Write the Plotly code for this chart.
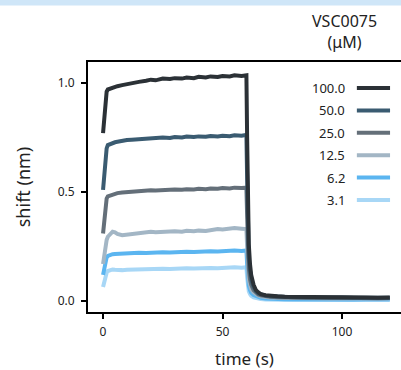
import plotly.graph_objects as go

# time points (s)
time_s = [0, 0.5, 1, 1.5, 2, 3, 4, 5, 6, 8, 10, 12, 15, 18, 20, 22, 25, 28, 30, 33,
          35, 38, 40, 43, 45, 48, 50, 53, 55, 58, 60,
          60.3, 60.6, 61, 61.5, 62, 63, 64, 65, 66, 68, 70, 73, 76, 80, 85, 90, 95, 100, 105, 110, 115, 120]

concentrations = ["100.0", "50.0", "25.0", "12.5", "6.2", "3.1"]

shift_100 = [0.77, 0.84, 0.91, 0.96, 0.97, 0.975, 0.975, 0.98, 0.985, 0.99,
             0.995, 1.0, 1.005, 1.01, 1.015, 1.012, 1.02, 1.018, 1.022, 1.02,
             1.025, 1.022, 1.028, 1.025, 1.03, 1.027, 1.032, 1.03, 1.035, 1.032, 1.035,
             0.75, 0.45, 0.26, 0.17, 0.12, 0.075, 0.05, 0.04, 0.032, 0.027,
             0.024, 0.022, 0.02, 0.02, 0.018, 0.019, 0.017, 0.018, 0.016, 0.017, 0.015, 0.016]
shift_50 = [0.51, 0.58, 0.65, 0.70, 0.715, 0.72, 0.725, 0.728, 0.73, 0.735,
            0.738, 0.74, 0.742, 0.745, 0.748, 0.746, 0.75, 0.748, 0.752, 0.75,
            0.754, 0.752, 0.755, 0.753, 0.757, 0.755, 0.758, 0.756, 0.76, 0.758, 0.762,
            0.56, 0.34, 0.2, 0.14, 0.1, 0.065, 0.045, 0.035, 0.03, 0.025,
            0.022, 0.02, 0.019, 0.018, 0.017, 0.018, 0.016, 0.017, 0.015, 0.016, 0.014, 0.015]
shift_25 = [0.31, 0.37, 0.43, 0.47, 0.48, 0.485, 0.49, 0.492, 0.495, 0.498,
            0.5, 0.502, 0.505, 0.506, 0.508, 0.507, 0.51, 0.509, 0.512, 0.51,
            0.513, 0.512, 0.515, 0.513, 0.516, 0.515, 0.518, 0.516, 0.52, 0.518, 0.52,
            0.39, 0.24, 0.15, 0.1, 0.075, 0.05, 0.038, 0.03, 0.026, 0.022,
            0.02, 0.018, 0.017, 0.016, 0.015, 0.016, 0.014, 0.015, 0.013, 0.014, 0.013, 0.014]
shift_12_5 = [0.17, 0.21, 0.25, 0.28, 0.295, 0.31, 0.318, 0.315, 0.308, 0.302,
              0.305, 0.31, 0.312, 0.315, 0.318, 0.316, 0.318, 0.317, 0.32, 0.318,
              0.322, 0.32, 0.323, 0.321, 0.325, 0.33, 0.328, 0.33, 0.335, 0.332, 0.33,
              0.25, 0.16, 0.1, 0.075, 0.055, 0.04, 0.032, 0.026, 0.022, 0.018,
              0.016, 0.015, 0.014, 0.013, 0.012, 0.013, 0.012, 0.012, 0.011, 0.012, 0.011, 0.012]
shift_6_2 = [0.12, 0.15, 0.18, 0.2, 0.207, 0.212, 0.215, 0.216, 0.217, 0.218,
             0.22, 0.219, 0.222, 0.221, 0.223, 0.222, 0.224, 0.223, 0.225, 0.224,
             0.226, 0.225, 0.227, 0.226, 0.228, 0.227, 0.229, 0.228, 0.232, 0.23, 0.232,
             0.17, 0.11, 0.07, 0.05, 0.038, 0.028, 0.022, 0.018, 0.015, 0.012,
             0.01, 0.009, 0.008, 0.008, 0.007, 0.008, 0.007, 0.008, 0.007, 0.008, 0.007, 0.008]
shift_3_1 = [0.065, 0.09, 0.115, 0.13, 0.138, 0.143, 0.145, 0.144, 0.143, 0.142,
             0.144, 0.145, 0.146, 0.145, 0.147, 0.146, 0.148, 0.147, 0.149, 0.148,
             0.15, 0.149, 0.151, 0.15, 0.152, 0.151, 0.153, 0.152, 0.155, 0.153, 0.155,
             0.11, 0.07, 0.045, 0.032, 0.024, 0.017, 0.013, 0.011, 0.009, 0.007,
             0.006, 0.006, 0.005, 0.005, 0.005, 0.006, 0.005, 0.005, 0.005, 0.006, 0.005, 0.005]

series = [shift_100, shift_50, shift_25, shift_12_5, shift_6_2, shift_3_1]
colors = ["#2b3136", "#3a5b71", "#646f79", "#a3b6c5", "#5bb5f0", "#a8d7f6"]

x_ticks = [0, 50, 100]
y_ticks = [0.0, 0.5, 1.0]

FONT = "Noto Sans"
fig = go.Figure()

# draw lowest concentration first so the highest sits on top
for name, ys, col in reversed(list(zip(concentrations, series, colors))):
    fig.add_trace(go.Scatter(x=time_s, y=ys, mode="lines", name=name,
                             line=dict(color=col, width=4), showlegend=False,
                             hoverinfo="skip"))

# custom legend (text right-aligned, swatch on right)
row_y0 = 0.896
row_step = 0.0895
for i, (name, col) in enumerate(zip(concentrations, colors)):
    yy = row_y0 - i * row_step
    fig.add_annotation(xref="paper", yref="paper", x=0.826, y=yy, text=name,
                       showarrow=False, xanchor="right", yanchor="middle",
                       font=dict(family=FONT, size=13, color="#222"))
    fig.add_shape(type="line", xref="paper", yref="paper", x0=0.859, x1=0.965,
                  y0=yy, y1=yy, line=dict(color=col, width=4))

fig.add_annotation(xref="paper", yref="paper", x=0.821, y=1.122,
                   text="VSC0075<br>(μM)", showarrow=False,
                   xanchor="center", yanchor="middle", align="center",
                   font=dict(family=FONT, size=16, color="#222"))

# top light-blue band
fig.add_shape(type="rect", xref="paper", yref="paper", x0=-0.3, x1=1.05,
              y0=1.226, y1=1.25, fillcolor="#cfe6f8", line=dict(width=0), layer="above")

fig.update_layout(
    width=401, height=370,
    margin=dict(l=88, r=0, t=62, b=58),
    paper_bgcolor="white", plot_bgcolor="white",
    font=dict(family=FONT, color="#222"),
    xaxis=dict(range=[-6.3, 124.7], tickvals=x_ticks, ticktext=[str(v) for v in x_ticks],
               showgrid=False, zeroline=False, showline=True, mirror=True,
               linecolor="black", linewidth=2, ticks="outside", ticklen=5,
               tickwidth=1.5, tickcolor="black", tickfont=dict(size=12, family=FONT),
               ticklabelstandoff=3,
               title=dict(text="time (s)", font=dict(size=17, family=FONT), standoff=17)),
    yaxis=dict(range=[-0.05, 1.096], tickvals=y_ticks, ticktext=[f"{v:.1f}" for v in y_ticks],
               showgrid=False, zeroline=False, showline=True, mirror=False,
               linecolor="black", linewidth=2, ticks="outside", ticklen=5,
               tickwidth=1.5, tickcolor="black", tickfont=dict(size=12, family=FONT),
               ticklabelstandoff=4,
               title=dict(text="shift (nm)", font=dict(size=18, family=FONT), standoff=22)),
)

fig.write_html("out.html", config={"displayModeBar": False},
               post_script="document.body.style.margin='0';document.body.style.overflow='hidden';")
